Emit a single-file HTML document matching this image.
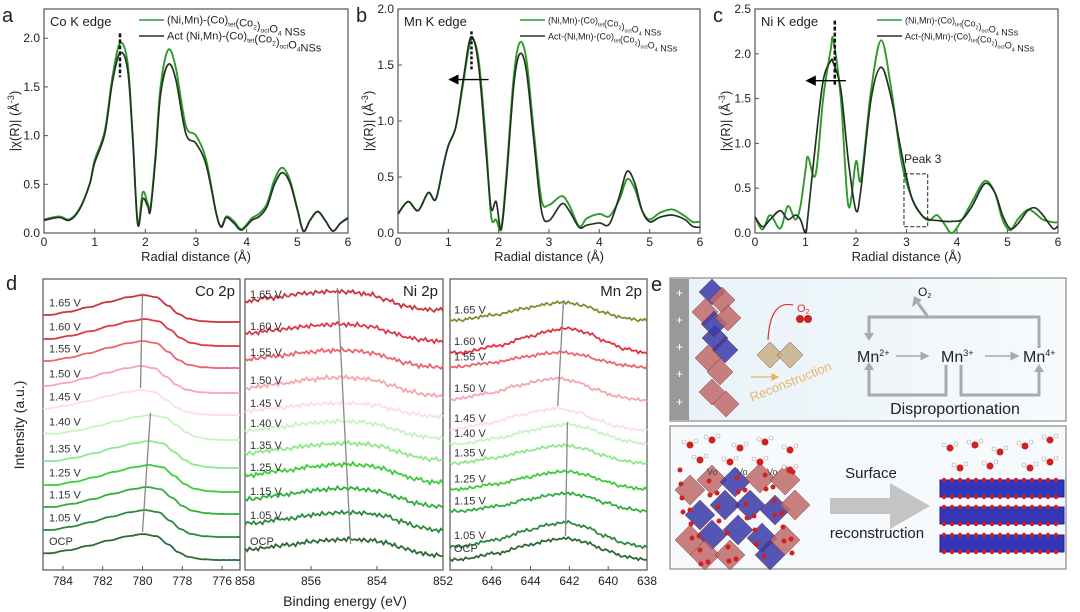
<!DOCTYPE html>
<html><head><meta charset="utf-8">
<style>
html,body{margin:0;padding:0;background:#fff;}
svg{display:block;font-family:"Liberation Sans",sans-serif;}
</style></head>
<body>
<svg id="fig" width="1080" height="612" viewBox="0 0 1080 612" xmlns="http://www.w3.org/2000/svg">
<defs>
<linearGradient id="bgE" x1="0" x2="1"><stop offset="0" stop-color="#e8f2f8"/><stop offset="1" stop-color="#f6fafc"/></linearGradient>
<marker id="ah" markerWidth="8" markerHeight="8" refX="6" refY="4" orient="auto"><path d="M0,0 L8,4 L0,8 Z" fill="#000"/></marker>
<marker id="ahg" markerWidth="6" markerHeight="6" refX="5" refY="3" orient="auto"><path d="M0,0 L6,3 L0,6 Z" fill="#aaa"/></marker>
<marker id="aho" markerWidth="6" markerHeight="6" refX="5" refY="3" orient="auto"><path d="M0,0 L6,3 L0,6 Z" fill="#e8b060"/></marker>
</defs>
<g id="root"></g>
</svg>
<script>
// ---------- EXAFS data ----------
const exafsAX = [0,0.3,0.5,0.7,0.9,1.0,1.2,1.35,1.5,1.65,1.75,1.85,1.95,2.05,2.1,2.2,2.3,2.45,2.6,2.8,3.0,3.2,3.4,3.5,3.6,3.75,3.9,4.1,4.25,4.4,4.55,4.7,4.85,5.0,5.12,5.25,5.4,5.55,5.7,5.85,6.0];
const exafsAGreen = [0.14,0.17,0.14,0.25,0.5,0.75,1.05,1.6,1.95,1.75,1.0,0.1,0.42,0.3,0.25,0.8,1.5,1.88,1.7,1.1,1.0,0.75,0.2,0.07,0.17,0.12,0.04,0.15,0.2,0.3,0.55,0.67,0.55,0.25,0.02,0.13,0.22,0.13,0.02,0.1,0.16];
const exafsADark  = [0.13,0.16,0.13,0.24,0.5,0.72,1.02,1.55,1.85,1.68,0.98,0.09,0.35,0.27,0.23,0.75,1.42,1.73,1.58,1.02,0.92,0.7,0.2,0.06,0.16,0.1,0.03,0.13,0.17,0.27,0.5,0.62,0.52,0.24,0.02,0.13,0.22,0.13,0.02,0.1,0.15];
const exafsBX = [0,0.2,0.4,0.6,0.75,0.9,1.0,1.15,1.3,1.45,1.6,1.75,1.85,1.95,2.05,2.15,2.3,2.42,2.55,2.7,2.85,3.0,3.25,3.4,3.6,3.75,4.0,4.2,4.4,4.55,4.7,4.85,5.0,5.2,5.45,5.7,5.85,6.0];
const exafsBGreen = [0.17,0.28,0.2,0.36,0.3,0.6,0.78,0.95,1.35,1.72,1.55,0.8,0.15,0.12,0.04,0.5,1.4,1.7,1.55,0.9,0.3,0.25,0.33,0.25,0.06,0.13,0.17,0.15,0.3,0.48,0.4,0.2,0.12,0.18,0.21,0.15,0.1,0.1];
const exafsBDark  = [0.17,0.28,0.2,0.36,0.3,0.6,0.78,0.95,1.38,1.75,1.5,0.72,0.22,0.28,0.03,0.45,1.32,1.6,1.45,0.82,0.2,0.11,0.26,0.2,0.05,0.07,0.09,0.08,0.33,0.55,0.45,0.2,0.1,0.14,0.16,0.12,0.06,0.05];
const exafsCX = [0,0.15,0.3,0.5,0.65,0.8,0.9,1.0,1.05,1.2,1.35,1.5,1.55,1.7,1.85,2.0,2.1,2.3,2.5,2.7,2.9,3.1,3.3,3.45,3.6,3.75,3.9,4.1,4.3,4.55,4.75,4.9,5.05,5.2,5.4,5.55,5.7,5.9,6.0];
const exafsCGreen = [0.18,0.04,0.2,0.05,0.3,0.15,0.3,0.7,0.85,0.65,1.5,2.05,2.15,1.5,0.3,0.8,0.6,1.6,2.15,1.6,0.8,0.4,0.2,0.14,0.2,0.1,0.0,0.15,0.35,0.58,0.45,0.15,0.03,0.15,0.26,0.22,0.15,0.12,0.12];
const exafsCDark  = [0.18,0.07,0.15,0.25,0.15,0.2,0.15,0.0,0.2,1.0,1.7,1.92,1.9,1.6,0.8,0.25,0.5,1.5,1.85,1.5,0.9,0.4,0.2,0.15,0.14,0.13,0.13,0.15,0.3,0.55,0.45,0.2,0.05,0.1,0.25,0.28,0.2,0.05,0.08];
const exafsXTicks = [0,1,2,3,4,5,6];
const exafsATicks = ["0.0","0.5","1.0","1.5","2.0"];
const exafsBTicks = ["0.0","0.5","1.0","1.5","2.0"];
const exafsCTicks = ["0.0","0.5","1.0","1.5","2.0","2.5"];

// ---------- XPS data ----------
const voltages = ["1.65 V","1.60 V","1.55 V","1.50 V","1.45 V","1.40 V","1.35 V","1.25 V","1.15 V","1.05 V","OCP"];
const coShapeE = [785,784,783,782,781,780.3,779.6,779,778.5,778,777.3,776.5,775];
const coShapeI = [0.26,0.38,0.55,0.75,0.92,1.0,0.92,0.6,0.3,0.12,0.03,0.0,0.0];
const coPeak = [780.0,779.9,780.0,780.1,780.1,779.6,779.7,779.7,779.8,779.9,780.0];
const coOffset = [248,224,202,177,155,130,102,78,56,33,10];
const coAmp = [27,27,27,27,25,25,27,27,27,27,26];
const niShapeE = [858,857,856,855.5,855,854.5,854,853.5,853,852.5,852];
const niShapeI = [0.45,0.65,0.85,0.92,0.95,0.9,0.8,0.55,0.3,0.15,0.1];
const niPeak = [855.2,855.1,855.1,855.0,855.0,855.0,854.9,854.9,854.9,854.8,854.8];
const niOffset = [258,227,201,172,152,130,108,85,61,37,12];
const niAmp = [22,20,20,22,16,20,20,22,22,22,20];
const mnShapeE = [648,646,644.5,643.3,642.5,641.5,640.5,639.5,638.5,638];
const mnShapeI = [0.18,0.42,0.72,0.92,1.0,0.85,0.55,0.3,0.18,0.15];
const mnPeak = [642.3,642.1,642.4,642.6,642.6,642.1,642.3,642.2,642.1,642.2,642.2];
const mnOffset = [246,212,200,166,136,122,103,77,55,18,6];
const mnAmp = [22,30,18,26,26,24,22,22,22,30,26];
const noiseVals = [0.0,0.8,-0.6,1.2,-1.0,0.4,1.5,-0.8,0.2,-1.4,0.9,0.3,-0.5,1.7,-1.1,0.6,-0.2,1.0,-1.6,0.5,0.9,-0.7,0.1,1.3,-0.9,-0.3,0.7,-1.2,1.1,0.2,-0.4,1.6,-1.0,0.3,0.8,-0.6,1.4,-1.3,0.0,0.6];
const xpsColors = ["#c8383c","#dc3a46","#ec6470","#f6a6ae","#fbdfe3","#c9f2c3","#8fe88c","#3dcd3a","#2fb040","#2e8a3c","#2f6a36"];
const mnColors = ["#8a8a30","#e0343c","#ec6470","#f6a6ae","#fbdfe3","#c9f2c3","#8fe88c","#3dcd3a","#2fb040","#2e8a3c","#2f6a36"];
const coTicks = [784,782,780,778,776];
const niTicks = [858,856,854,852];
const mnTicks = [646,644,642,640,638];

const NS="http://www.w3.org/2000/svg";
const root=document.getElementById('root');
function mk(tag,attrs,parent){const e=document.createElementNS(NS,tag);for(const k in attrs)e.setAttribute(k,attrs[k]);(parent||root).appendChild(e);return e;}
function txt(x,y,s,size,anchor,parent,extra){const t=mk('text',Object.assign({x:x,y:y,'font-size':size,'text-anchor':anchor||'start',fill:'#222'},extra||{}),parent);t.textContent=s;return t;}
function smooth(pts){let d='M'+pts[0][0].toFixed(2)+','+pts[0][1].toFixed(2);for(let i=0;i<pts.length-1;i++){const p0=pts[i-1]||pts[i],p1=pts[i],p2=pts[i+1],p3=pts[i+2]||p2;const c1=[p1[0]+(p2[0]-p0[0])/6,p1[1]+(p2[1]-p0[1])/6],c2=[p2[0]-(p3[0]-p1[0])/6,p2[1]-(p3[1]-p1[1])/6];d+='C'+c1[0].toFixed(2)+','+c1[1].toFixed(2)+' '+c2[0].toFixed(2)+','+c2[1].toFixed(2)+' '+p2[0].toFixed(2)+','+p2[1].toFixed(2);}return d;}
function interp(xs,ys,x){if((xs[0]-xs[xs.length-1])>0){xs=xs.slice().reverse();ys=ys.slice().reverse();}if(x<=xs[0])return ys[0];if(x>=xs[xs.length-1])return ys[ys.length-1];for(let i=0;i<xs.length-1;i++){if(x>=xs[i]&&x<=xs[i+1]){const t=(x-xs[i])/(xs[i+1]-xs[i]);const s=t*t*(3-2*t);return ys[i]+(ys[i+1]-ys[i])*s;}}return 0;}

// ---------- EXAFS panels ----------
function exafs(cfg){
  const g=mk('g',{});
  
  
  const L=cfg.x0,R=cfg.x1,T=9,B=233;
  const sx=v=>L+(v-0)/6*(R-L);
  const sy=v=>B-v/cfg.ymax*(B-T);
  const box=mk('rect',{x:L,y:T,width:R-L,height:B-T,fill:'none',stroke:'#555','stroke-width':1.2},g);
  
  exafsXTicks.forEach(v=>{mk('line',{x1:sx(v),x2:sx(v),y1:B,y2:B-4,stroke:'#555'},g);const t=txt(sx(v),B+13,String(v),12,'middle',g);});
  cfg.ticks.forEach(s=>{const v=parseFloat(s);mk('line',{x1:L,x2:L+4,y1:sy(v),y2:sy(v),stroke:'#555'},g);const t=txt(L-4,sy(v)+4,s,12,'end',g);});
  const xt=txt((L+R)/2,B+28,'Radial distance (Å)',13,'middle',g);
  const yt=txt(0,0,'|χ(R)| (Å',13,'middle',g,{transform:`translate(${L-25},${(T+B)/2}) rotate(-90)`});
  const sup=mk('tspan',{'font-size':9,dy:-5},yt);sup.textContent='-3';const cl=mk('tspan',{dy:5},yt);cl.textContent=')';
  
  const p1=mk('path',{d:smooth(cfg.xs.map((x,i)=>[sx(x),sy(cfg.g[i])])),fill:'none',stroke:'#2e9a2e','stroke-width':1.9},g);
  
  const p2=mk('path',{d:smooth(cfg.xs.map((x,i)=>[sx(x),sy(cfg.d[i])])),fill:'none',stroke:'#223322','stroke-width':1.7},g);
  
  const el=txt(L+6,T+17,cfg.edge,13,'start',g);
  const pl=txt(L-42,T+13,cfg.letter,20,'start',g);
  const lx=L+cfg.lgx;
  [[cfg.l1,'#2e9a2e',T+11],[cfg.l2,'#223322',T+27]].forEach((e,i)=>{
    const ln=mk('line',{x1:lx,x2:lx+25,y1:e[2],y2:e[2],stroke:e[1],'stroke-width':1.6},g);
    
    const t=mk('text',{x:lx+28,y:e[2]+3.5,'font-size':cfg.lfs,fill:'#222'},g);
    
    e[0].forEach(p=>{const s=mk('tspan',p[1]?{'font-size':cfg.lfs*0.6,dy:3}:{},t);s.textContent=p[0];if(p[1]){const r=mk('tspan',{dy:-3},t);r.textContent='';}});
  });
  return {g,sx,sy};
}
const leg1=[['(Ni,Mn)-(Co)'],['tet',1],['(Co'],['2',1],[')'],['oct',1],['O'],['4',1],['  NSs']];
const legA2=[['Act (Ni,Mn)-(Co)'],['tet',1],['(Co'],['2',1],[')'],['oct',1],['O'],['4',1],['NSs']];
const legB2=[['Act-(Ni,Mn)-(Co)'],['tet',1],['(Co'],['2',1],[')'],['oct',1],['O'],['4',1],[' NSs']];
const A=exafs({name:'panel-a-co-exafs',x0:44,x1:348,ymax:2.3,ticks:exafsATicks,xs:exafsAX,g:exafsAGreen,d:exafsADark,edge:'Co K edge',letter:'a',l1:leg1,l2:legA2,lgx:95,lfs:11});
const Bp=exafs({name:'panel-b-mn-exafs',x0:398,x1:700,ymax:2.0,ticks:exafsBTicks,xs:exafsBX,g:exafsBGreen,d:exafsBDark,edge:'Mn K edge',letter:'b',l1:leg1,l2:legB2,lgx:122,lfs:9});
const C=exafs({name:'panel-c-ni-exafs',x0:755,x1:1058,ymax:2.5,ticks:exafsCTicks,xs:exafsCX,g:exafsCGreen,d:exafsCDark,edge:'Ni K edge',letter:'c',l1:leg1,l2:legB2,lgx:122,lfs:9});
mk('line',{x1:A.sx(1.5),x2:A.sx(1.5),y1:A.sy(2.05),y2:A.sy(1.6),stroke:'#111','stroke-width':2.5,'stroke-dasharray':'4,2'});
mk('line',{x1:Bp.sx(1.46),x2:Bp.sx(1.46),y1:Bp.sy(1.8),y2:Bp.sy(1.45),stroke:'#111','stroke-width':2.5,'stroke-dasharray':'3,2'});
mk('line',{x1:Bp.sx(1.8),x2:Bp.sx(1.05),y1:Bp.sy(1.37),y2:Bp.sy(1.37),stroke:'#000','stroke-width':1.3,'marker-end':'url(#ah)'});
mk('line',{x1:C.sx(1.58),x2:C.sx(1.58),y1:C.sy(2.37),y2:C.sy(1.65),stroke:'#111','stroke-width':2.5,'stroke-dasharray':'4,2'});
mk('line',{x1:C.sx(1.8),x2:C.sx(1.05),y1:C.sy(1.7),y2:C.sy(1.7),stroke:'#000','stroke-width':1.3,'marker-end':'url(#ah)'});
mk('rect',{x:C.sx(2.95),y:C.sy(0.66),width:C.sx(3.42)-C.sx(2.95),height:C.sy(0.07)-C.sy(0.66),fill:'none',stroke:'#222','stroke-dasharray':'4,2'});
txt(C.sx(2.95),C.sy(0.78),'Peak 3',12,'start');

// ---------- XPS panels ----------
function xps(cfg){
  const g=mk('g',{});
  
  
  const L=cfg.x0,R=cfg.x1,T=279,B=570;
  const sx=e=>L+(cfg.e0-e)/(cfg.e0-cfg.e1)*(R-L);
  const box=mk('rect',{x:L,y:T,width:R-L,height:B-T,fill:'none',stroke:'#555','stroke-width':1.2},g);
  
  cfg.ticks.forEach(v=>{const x=sx(v);mk('line',{x1:x,x2:x,y1:B,y2:B-4,stroke:'#555'},g);const t=txt(x,B+15,String(v),12,'middle',g);});
  const ttl=txt(R-5,T+17,cfg.title,15,'end',g);
  const tops=[];
  voltages.forEach((v,i)=>{
    const pts=[];const n=90;
    for(let k=0;k<=n;k++){
      const e=cfg.e0-(cfg.e0-cfg.e1)*k/n;
      const val=interp(cfg.sE,cfg.sI,e-(cfg.peak[i]-cfg.ref));
      const nz=cfg.noise*noiseVals[(k+i*7)%noiseVals.length];
      pts.push([sx(e),B-cfg.off[i]-val*cfg.amp[i]+nz]);
    }
    let d='M'+pts.map(p=>p[0].toFixed(1)+','+p[1].toFixed(1)).join('L');
    const p=mk('path',{d:d,fill:'none',stroke:cfg.colors[i],'stroke-width':1.8},g);
    
    
    tops.push([sx(cfg.peak[i]),B-cfg.off[i]-cfg.amp[i]]);
    const lab=txt(L+cfg.lx,B-cfg.off[i]-cfg.amp[i]*cfg.lk-4,v,11,'start',g,{fill:'#333'});
    
  });
  [[0,4],[5,10]].forEach(r=>{if(cfg.single&&r[0]>0)return;const a=cfg.single?tops[0]:tops[r[0]],b=cfg.single?tops[10]:tops[r[1]];
    const ln=mk('line',{x1:a[0],y1:a[1]-2,x2:b[0],y2:b[1]+(cfg.single?6:-2),stroke:'#888','stroke-width':1.3},g);
    });
  return g;
}
xps({name:'panel-d-co-2p',x0:43,x1:240,e0:785,e1:775.1,ticks:coTicks,title:'Co 2p',sE:coShapeE,sI:coShapeI,ref:780.3,peak:coPeak,off:coOffset,amp:coAmp,colors:xpsColors,noise:0.1,lx:6,lk:0.42,});
xps({name:'panel-d-ni-2p',x0:245,x1:443,e0:858,e1:852,ticks:niTicks,title:'Ni 2p',sE:niShapeE,sI:niShapeI,ref:855,peak:niPeak,off:niOffset,amp:niAmp,colors:xpsColors,noise:1.4,lx:5,lk:0.45,single:true});
xps({name:'panel-d-mn-2p',x0:450,x1:647,e0:648.15,e1:638,ticks:mnTicks,title:'Mn 2p',sE:mnShapeE,sI:mnShapeI,ref:642.5,peak:mnPeak,off:mnOffset,amp:mnAmp,colors:mnColors,noise:1.0,lx:4,lk:0.3});
txt(6,290,'d',20,'start');
const yt=txt(0,0,'Intensity (a.u.)',14,'middle',null,{transform:'translate(24,425) rotate(-90)'});
txt(345,606,'Binding energy (eV)',14,'middle');
</script>

<g id="pe"></g>
<script>
const svg=document.getElementById('fig');
function add(html){const g=document.createElementNS(NS,'g');g.innerHTML=html;svg.appendChild(g);return g;}
let s='';
s+='<text x="651" y="291" font-size="20" fill="#222">e</text>';
s+='<rect x="670" y="278" width="396" height="143" fill="url(#bgE)" stroke="#888" stroke-width="1.2"/>';
s+='<rect x="670" y="279" width="19" height="141" fill="#999"/>';
[293,320,347,374,402].forEach(y=>{s+=`<text x="679.5" y="${y+4}" font-size="12" fill="#fff" text-anchor="middle">+</text>`;});
const oct=(cx,cy,r,c)=>`<polygon points="${cx},${cy-r} ${cx+r},${cy} ${cx},${cy+r} ${cx-r},${cy}" fill="${c}" opacity="0.85" stroke="#7a2020" stroke-width="0.5"/>`;
[[712,292,'#3a3aa8'],[722,300,'#c06a6a'],[705,312,'#c06a6a'],[715,338,'#3a3aa8'],[725,350,'#3a3aa8'],[708,358,'#c06a6a'],[720,372,'#c06a6a'],[712,392,'#c06a6a'],[726,404,'#c06a6a'],[714,324,'#3a3aa8'],[728,318,'#c06a6a']].forEach(o=>{s+=oct(o[0],o[1],13,o[2]);});
s+=oct(770,355,13,'#c8b088')+oct(790,355,13,'#c8b088');
s+='<path d="M768,340 Q770,300 793,305" fill="none" stroke="#e03030" stroke-width="1.2"/>';
s+='<circle cx="800" cy="319" r="4" fill="#d02020"/><circle cx="808" cy="319" r="4" fill="#d02020"/>';
s+='<text x="797" y="312" font-size="11" fill="#e03030">O<tspan font-size="7" dy="2">2</tspan></text>';
s+='<line x1="751" y1="377" x2="778" y2="377" stroke="#e8b060" stroke-width="1.3" marker-end="url(#aho)"/>';
s+='<text x="752" y="402" font-size="13" fill="#eab56a" transform="rotate(-22 752 402)">Reconstruction</text>';
s+='<g stroke="#aaa" stroke-width="3" fill="none"><polyline points="869,335 869,317 1039,317 1039,348"/><polyline points="869,366 869,395 946,395 946,365"/><polyline points="961,365 961,395 1039,395 1039,372"/><polyline points="928,317 918,303"/></g>';
s+='<polygon points="864,333 874,333 869,341" fill="#aaa"/><polygon points="864,370 874,370 869,362" fill="#aaa"/><polygon points="1034,372 1044,372 1039,364" fill="#aaa"/><polygon points="912,307 922,300 914,296" fill="#aaa"/>';
s+='<text x="918" y="296" font-size="12" fill="#222">O<tspan font-size="7" dy="2">2</tspan></text>';
s+='<text x="857" y="362" font-size="16" fill="#222">Mn<tspan font-size="9" dy="-6">2+</tspan></text>';
s+='<text x="941" y="362" font-size="16" fill="#222">Mn<tspan font-size="9" dy="-6">3+</tspan></text>';
s+='<text x="1023" y="362" font-size="16" fill="#222">Mn<tspan font-size="9" dy="-6">4+</tspan></text>';
s+='<line x1="896" y1="356" x2="928" y2="356" stroke="#aaa" stroke-width="1.5" marker-end="url(#ahg)"/><line x1="985" y1="356" x2="1018" y2="356" stroke="#aaa" stroke-width="1.5" marker-end="url(#ahg)"/>';
s+='<text x="955" y="414" font-size="16" fill="#222" text-anchor="middle">Disproportionation</text>';
s+='<rect x="670" y="426" width="396" height="143" fill="#f6fafc" stroke="#888" stroke-width="1.2"/>';
const cl=[[690,490,'#c06a6a'],[712,480,'#c06a6a'],[735,482,'#3a3aa8'],[760,478,'#c06a6a'],[785,480,'#c06a6a'],[700,515,'#3a3aa8'],[725,505,'#3a3aa8'],[750,505,'#3a3aa8'],[775,510,'#3a3aa8'],[795,505,'#c06a6a'],[690,540,'#c06a6a'],[712,535,'#3a3aa8'],[738,530,'#3a3aa8'],[762,538,'#3a3aa8'],[785,540,'#c06a6a'],[705,555,'#c06a6a'],[730,555,'#c06a6a'],[770,555,'#3a3aa8']];
cl.forEach(o=>{s+=oct(o[0],o[1],15,o[2]);});
for(let i=0;i<40;i++){const x=680+(i*37)%120,y=470+(i*23)%95;s+=`<circle cx="${x}" cy="${y}" r="2.5" fill="#d02020"/>`;}
[[690,445],[712,440],[740,448],[765,442],[790,450],[700,460],[730,462],[760,462],[790,470],[950,448],[975,445],[1000,452],[1025,446],[1050,440],[960,468],[990,466],[1030,468],[1050,462]].forEach(p=>{s+=`<circle cx="${p[0]}" cy="${p[1]}" r="3.5" fill="#d02020"/><circle cx="${p[0]-6}" cy="${p[1]-3}" r="2" fill="#fff" stroke="#999" stroke-width="0.6"/><circle cx="${p[0]+6}" cy="${p[1]-4}" r="2" fill="#fff" stroke="#999" stroke-width="0.6"/>`;});
['Vo','Vo','Vo'].forEach((v,i)=>{s+=`<text x="${707+i*30}" y="475" font-size="9" fill="#444">${v}</text>`;});
s+='<polygon points="830,498 890,498 890,483 930,506 890,529 890,514 830,514" fill="#c4c4c4"/>';
s+='<text x="871" y="478" font-size="15" fill="#222" text-anchor="middle">Surface</text>';
s+='<text x="877" y="538" font-size="15" fill="#222" text-anchor="middle">reconstruction</text>';
[480,507,535].forEach(y=>{s+=`<rect x="940" y="${y}" width="124" height="17" fill="#3535b8" stroke="#2020a0"/>`;for(let x=944;x<1064;x+=8){s+=`<circle cx="${x}" cy="${y}" r="2.2" fill="#d02020"/><circle cx="${x}" cy="${y+17}" r="2.2" fill="#d02020"/>`;}});
add(s);
</script>
</body></html>
